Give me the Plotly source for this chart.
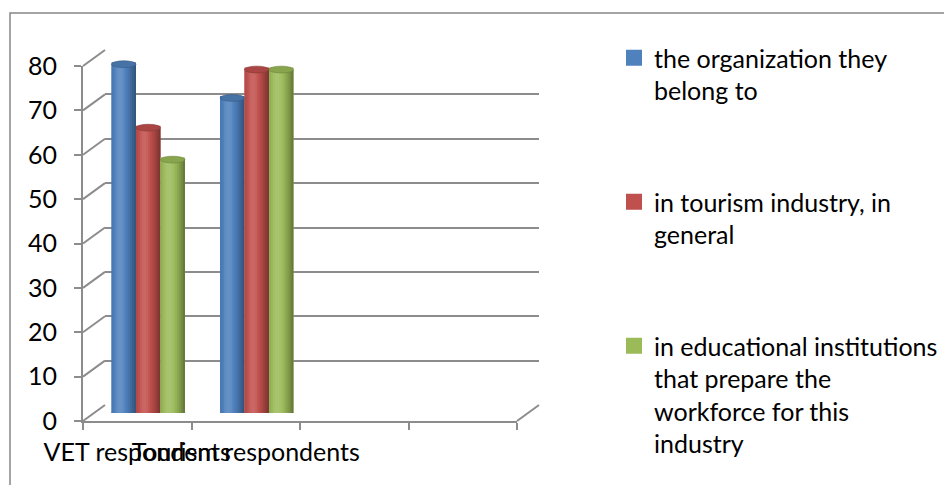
import math
import plotly.graph_objects as go

# ---- data -------------------------------------------------------------
categories = ["VET respondents", "Tourism respondents"]
empty_slots = [" ", "  "]
series_names = [
    "the organization they<br>belong to",
    "in tourism industry, in<br>general",
    "in educational institutions<br>that prepare the<br>workforce for this<br>industry",
]
organization = [78.6, 71.0]
tourism_industry = [64.3, 77.4]
educational = [57.1, 77.4]
series_values = [organization, tourism_industry, educational]
series_colors = ["#4F81BD", "#C0504D", "#9BBB59"]
y_ticks = list(range(0, 81, 10))

# ---- frame geometry (pixels) -----------------------------------------
W, H = 944, 485
FRONT_L, FRONT_R = 83, 517          # front floor edge
FRONT_BOTTOM, FRONT_TOP = 421, 66   # value 0 and value 80 on the front axis
DX, DY = 22, -16                    # depth offset of the back wall
Y_MAX = 80
GRID = "#8c8c8c"
FONT = "Lato"
FS = 25
BAR_GAP = 0.323
STRIPES = 12
OUTLINE = 4                         # outline of the base bar (enlarges legend swatch)


def px(x):
    return x / W


def py(y):
    return 1 - y / H


def to_rgb(h):
    h = h.lstrip("#")
    return tuple(int(h[i:i + 2], 16) for i in (0, 2, 4))


def mix(h, target, amt):
    r, g, b = to_rgb(h)
    tr, tg, tb = target
    return "rgb(%d,%d,%d)" % (
        round(r + (tr - r) * amt), round(g + (tg - g) * amt), round(b + (tb - b) * amt))


def cylinder_shade(base, t):
    theta = (t - 0.5) * math.pi * 0.95
    s = math.cos(theta + 0.45)
    if s > 0.8:
        return mix(base, (255, 255, 255), (s - 0.8) / 0.2 * 0.14)
    return mix(base, (0, 0, 0), (0.8 - s) * 0.32)


def domain_x(dx):
    return [px(FRONT_L + dx), px(FRONT_R + dx)]


def domain_y(dy):
    return [py(FRONT_BOTTOM + dy), py(FRONT_TOP + dy)]


fig = go.Figure()

# back wall subplot (gridlines) on x/y, bars at mid depth on x2/y2, front axes on x3/y3
fig.add_trace(go.Scatter(x=[0], y=[None], xaxis="x", yaxis="y", showlegend=False,
                         hoverinfo="skip", mode="markers"))

x_pos = list(range(len(categories)))
group_w = 1 - BAR_GAP
bar_w = group_w / 3
px_per_unit_x = (FRONT_R - FRONT_L) / 4
ppu = (FRONT_BOTTOM - FRONT_TOP) / Y_MAX
ell = 3.4 / ppu
pad = (OUTLINE / 2) / px_per_unit_x

shapes = []
for i, (name, vals, col) in enumerate(zip(series_names, series_values, series_colors)):
    off = -group_w / 2 + i * bar_w
    fig.add_trace(go.Bar(
        x=x_pos, y=vals, name=name, xaxis="x2", yaxis="y2",
        offset=off + pad, width=bar_w - 2 * pad,
        marker=dict(color=col, line=dict(width=OUTLINE, color=col)),
        legendgroup="g%d" % i, hoverinfo="skip"))
    sw = bar_w / STRIPES
    for j in range(STRIPES):
        t = (j + 0.5) / STRIPES
        fig.add_trace(go.Bar(
            x=x_pos, y=vals, xaxis="x2", yaxis="y2",
            offset=off + j * sw, width=sw * (1.25 if j < STRIPES - 1 else 1.0),
            marker=dict(color=cylinder_shade(col, t), line=dict(width=0)),
            legendgroup="g%d" % i, showlegend=False, hoverinfo="skip"))
    for xp, v in zip(x_pos, vals):
        shapes.append(dict(type="circle", xref="x2", yref="y2",
                           x0=xp + off, x1=xp + off + bar_w, y0=v - ell, y1=v + ell,
                           fillcolor=mix(col, (0, 0, 0), 0.12),
                           line=dict(color=mix(col, (0, 0, 0), 0.3), width=0.6),
                           layer="above"))
        shapes.append(dict(type="circle", xref="x2", yref="y2",
                           x0=xp + off, x1=xp + off + bar_w, y0=-ell, y1=ell,
                           fillcolor=mix(col, (0, 0, 0), 0.2),
                           line=dict(width=0), layer="below"))

fig.add_trace(go.Scatter(x=categories + empty_slots, y=[None] * 4, xaxis="x3", yaxis="y3",
                         showlegend=False, hoverinfo="skip", mode="markers"))

# side wall and floor edges joining the front axes to the back wall
for v in y_ticks:
    yf = FRONT_BOTTOM - v * ppu
    shapes.append(dict(type="line", xref="paper", yref="paper",
                       x0=px(FRONT_L), y0=py(yf), x1=px(FRONT_L + DX), y1=py(yf + DY),
                       line=dict(color=GRID, width=2)))
shapes.append(dict(type="line", xref="paper", yref="paper",
                   x0=px(FRONT_R), y0=py(FRONT_BOTTOM), x1=px(FRONT_R + DX), y1=py(FRONT_BOTTOM + DY),
                   line=dict(color=GRID, width=2)))
# chart area border
shapes.append(dict(type="rect", xref="paper", yref="paper",
                   x0=px(10), y0=py(13), x1=1.02, y1=-0.02,
                   line=dict(color="#868686", width=1.5), fillcolor="rgba(0,0,0,0)"))

hidden = dict(showgrid=False, zeroline=False, showline=False, showticklabels=False, ticks="")

fig.update_layout(
    width=W, height=H, margin=dict(l=0, r=0, t=0, b=0, autoexpand=False),
    paper_bgcolor="white", plot_bgcolor="rgba(0,0,0,0)",
    barmode="overlay",
    font=dict(family=FONT, size=FS, color="black"),
    shapes=shapes,
    xaxis=dict(domain=domain_x(DX), range=[-0.5, 3.5], anchor="y", **hidden),
    yaxis=dict(domain=domain_y(DY), range=[0, Y_MAX], anchor="x", dtick=10,
               showgrid=True, gridcolor=GRID, gridwidth=2, zeroline=False,
               showline=False, showticklabels=False, ticks=""),
    xaxis2=dict(domain=domain_x(DX / 2), range=[-0.5, 3.5], anchor="y2", **hidden),
    yaxis2=dict(domain=domain_y(DY / 2), range=[0, Y_MAX], anchor="x2", **hidden),
    xaxis3=dict(domain=domain_x(0), anchor="y3", type="category",
                categoryorder="array", categoryarray=categories + empty_slots,
                range=[-0.5, 3.5], tickson="boundaries", ticks="outside", ticklen=7,
                tickwidth=2, tickcolor=GRID, showline=True, linecolor=GRID, linewidth=2,
                showgrid=False, zeroline=False, tickangle=0, ticklabelstandoff=8,
                tickfont=dict(family=FONT, size=FS, color="black")),
    yaxis3=dict(domain=domain_y(0), anchor="x3", range=[0, Y_MAX], tickvals=y_ticks,
                ticks="outside", ticklen=7, tickwidth=2, tickcolor=GRID,
                showline=True, linecolor=GRID, linewidth=2, showgrid=False,
                zeroline=False, ticklabelstandoff=12,
                tickfont=dict(family=FONT, size=FS, color="black")),
    legend=dict(x=px(614), y=py(35), xanchor="left", yanchor="top",
                bgcolor="rgba(0,0,0,0)", valign="top", tracegroupgap=76,
                font=dict(family=FONT, size=FS, color="black")),
)

fig.write_html("out.html")
